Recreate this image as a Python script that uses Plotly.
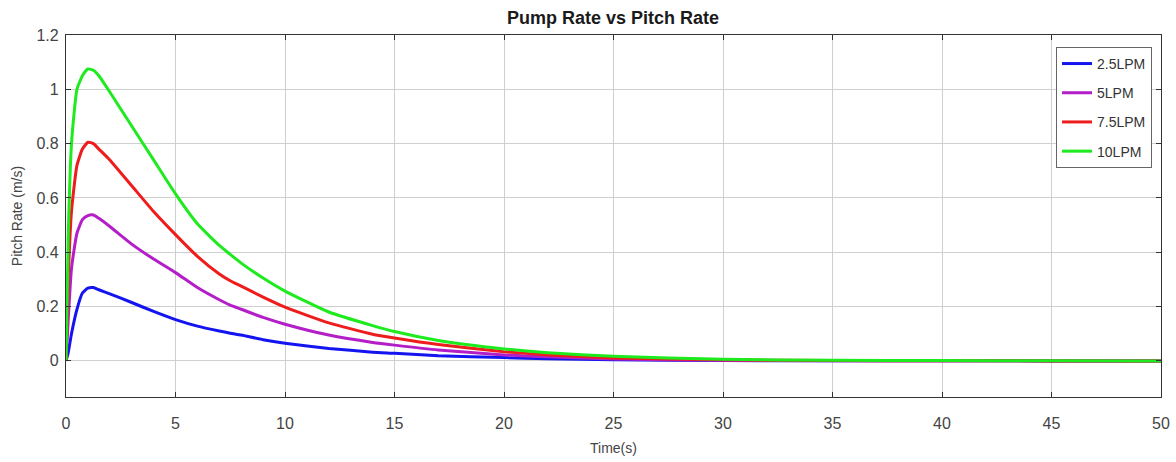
import plotly.graph_objects as go

# Time points (s)
time_s = [0, 0.1, 0.25, 0.5, 0.75, 1.0, 1.25, 1.5, 2, 3, 4, 5, 6, 7, 7.5, 8, 9, 10,
          12, 14, 15, 17, 20, 22, 25, 30, 35, 40, 45, 50]

# Pitch rate (m/s) per pump rate
lpm_2_5 = [0, 0.03, 0.10, 0.19, 0.25, 0.268, 0.27, 0.262, 0.247, 0.215, 0.182, 0.152, 0.128,
           0.11, 0.102, 0.095, 0.078, 0.065, 0.046, 0.032, 0.028, 0.019, 0.012, 0.008,
           0.004, 0.001, 0.0003, 0.0001, 0, 0]
lpm_5 = [0, 0.15, 0.34, 0.47, 0.52, 0.535, 0.537, 0.525, 0.495, 0.43, 0.375, 0.325, 0.27,
         0.225, 0.205, 0.19, 0.16, 0.135, 0.095, 0.068, 0.058, 0.04, 0.022, 0.015,
         0.007, 0.002, 0.0005, 0.0001, 0, 0]
lpm_7_5 = [0, 0.30, 0.55, 0.72, 0.78, 0.805, 0.80, 0.78, 0.74, 0.645, 0.55, 0.465, 0.385,
           0.32, 0.295, 0.275, 0.235, 0.198, 0.14, 0.098, 0.084, 0.06, 0.034, 0.022,
           0.011, 0.004, 0.001, 0.0003, 0, 0]
lpm_10 = [0, 0.45, 0.80, 1.00, 1.05, 1.075, 1.07, 1.05, 0.99, 0.865, 0.74, 0.615, 0.505,
          0.425, 0.392, 0.36, 0.305, 0.257, 0.18, 0.13, 0.108, 0.075, 0.044, 0.03,
          0.017, 0.006, 0.002, 0.001, 0.0005, 0]

series_names = ["2.5LPM", "5LPM", "7.5LPM", "10LPM"]
series_values = [lpm_2_5, lpm_5, lpm_7_5, lpm_10]
series_colors = ["#1414f0", "#b41ec8", "#ee1c1c", "#1eeb1e"]

x_ticks = list(range(0, 51, 5))
y_ticks = [0, 0.2, 0.4, 0.6, 0.8, 1, 1.2]

FONT = "Liberation Sans, Arial"

fig = go.Figure()
for i, (name, vals, col) in enumerate(zip(series_names, series_values, series_colors)):
    fig.add_trace(go.Scatter(x=time_s, y=vals, mode="lines", name=name,
                             legendgroup=f"g{i}",
                             line=dict(color=col, width=3, shape="spline", smoothing=0.5)))

axis_common = dict(showline=True, linecolor="#333333", linewidth=1.2, mirror="ticks",
                   showgrid=True, gridcolor="#cfcfcf", gridwidth=1, zeroline=False,
                   ticks="inside", ticklen=5, tickcolor="#333333", automargin=False,
                   tickfont=dict(family=FONT, size=16, color="#444444"))

fig.update_xaxes(range=[0, 50], tickvals=x_ticks, ticklabelstandoff=12,
                 title=dict(text="Time(s)", font=dict(family=FONT, size=14, color="#444444"),
                            standoff=11),
                 **axis_common)
fig.update_yaxes(range=[-0.133, 1.2], tickvals=y_ticks, ticklabelstandoff=3,
                 title=dict(text="Pitch Rate (m/s)", font=dict(family=FONT, size=14, color="#444444"),
                            standoff=10),
                 **axis_common)

fig.update_layout(
    width=1176, height=462,
    margin=dict(l=66, r=15, t=35, b=65),
    paper_bgcolor="white", plot_bgcolor="white",
    title=dict(text="<b>Pump Rate vs Pitch Rate</b>", x=(66 + 1160) / 2 / 1176, xanchor="center",
               y=1 - 18 / 462, yanchor="middle",
               font=dict(family=FONT, size=18, color="#1a1a1a")),
    legend=dict(x=0.9918, xanchor="right", y=0.967, yanchor="top",
                bgcolor="white", bordercolor="#666666", borderwidth=1,
                traceorder="grouped", tracegroupgap=8,
                font=dict(family=FONT, size=14, color="#333333")),
    showlegend=True,
)

fig.write_html("out.html")
